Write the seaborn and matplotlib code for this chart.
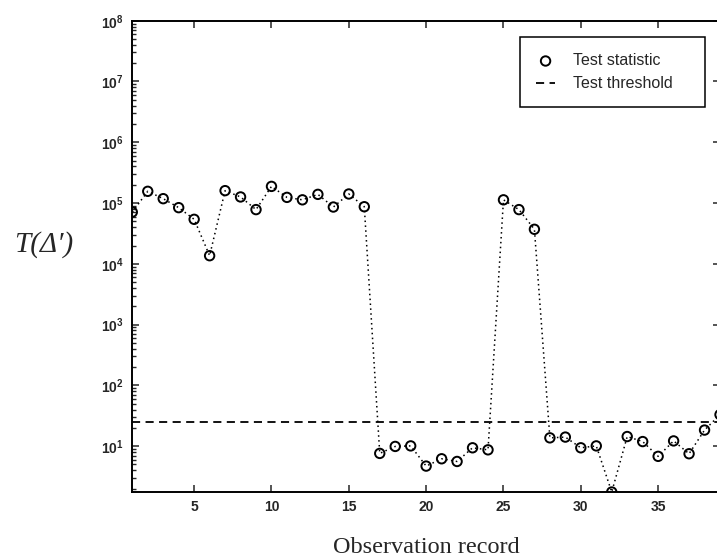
import matplotlib
matplotlib.use("Agg")
import matplotlib.pyplot as plt
import seaborn as sns
import numpy as np
import pandas as pd
from matplotlib.ticker import LogLocator, FixedLocator, NullFormatter

# ---- data ----
records = list(range(1, 40))
test_statistic = [7.1e4, 1.56e5, 1.18e5, 8.4e4, 5.4e4, 1.36e4, 1.6e5, 1.26e5, 7.8e4, 1.88e5,
                  1.24e5, 1.13e5, 1.39e5, 8.6e4, 1.41e5, 8.7e4, 7.6, 9.9, 10.1, 4.7,
                  6.2, 5.6, 9.4, 8.7, 1.13e5, 7.8e4, 3.7e4, 13.7, 14.1, 9.4,
                  10.1, 1.76, 14.4, 11.9, 6.8, 12.2, 7.5, 18.4, 33.0]
test_threshold = 24.6
x_ticks = [5, 10, 15, 20, 25, 30, 35]
y_ticks = [1e1, 1e2, 1e3, 1e4, 1e5, 1e6, 1e7, 1e8]
legend_labels = ["Test statistic", "Test threshold"]
xlabel = "Observation record"
ylabel = "T(Δ\u2032)"

df = pd.DataFrame({"record": records, "stat": test_statistic})

sns.set_style("white")
plt.rcParams["font.family"] = ["Liberation Sans", "DejaVu Sans"]

fig = plt.figure(figsize=(7.17, 5.6), dpi=100)
ax = fig.add_axes([0.1845, 0.1214, 0.8197, 0.8416])

sns.lineplot(data=df, x="record", y="stat", ax=ax, color="black",
             linestyle=(0, (1, 2.2)), linewidth=1.1, legend=False)
sns.scatterplot(data=df, x="record", y="stat", ax=ax, marker="o", s=46,
                facecolors="none", edgecolor="black", linewidth=1.4,
                label=legend_labels[0], zorder=3)
ax.axhline(test_threshold, color="black", linestyle=(0, (4.5, 3)), linewidth=1.3,
           label=legend_labels[1])

ax.set_yscale("log")
ax.set_xlim(1, 39)
ax.set_ylim(1.76, 1e8)
ax.xaxis.set_major_locator(FixedLocator(x_ticks))
ax.yaxis.set_major_locator(FixedLocator(y_ticks))
ax.minorticks_on()
ax.xaxis.set_minor_locator(FixedLocator([]))
ax.yaxis.set_minor_locator(LogLocator(base=10, subs=tuple(np.arange(2, 10)), numticks=100))
ax.yaxis.set_minor_formatter(NullFormatter())

ax.tick_params(axis="both", which="major", direction="in", length=5, width=1.1,
               top=True, right=True, left=True, bottom=True, labelsize=10, pad=6)
ax.tick_params(axis="y", which="minor", direction="in", length=3, width=1.0,
               left=True, right=False)
for lab in ax.get_xticklabels() + ax.get_yticklabels():
    lab.set_fontweight("bold")
for sp in ax.spines.values():
    sp.set_linewidth(1.4)
    sp.set_color("black")

ax.set_xlabel(xlabel, fontsize=17.5, family=["Liberation Serif"], labelpad=16)
ax.set_ylabel("")
fig.text(0.061, 0.563, ylabel, fontsize=21, ha="center", va="center",
         family=["Liberation Serif", "DejaVu Serif"], style="italic")

leg = ax.legend(loc="upper right", bbox_to_anchor=(0.6597, 0.0, 0.3143, 0.965),
                mode="expand", frameon=True,
                fancybox=False, edgecolor="black", framealpha=1, fontsize=11.5,
                borderpad=1.0, labelspacing=0.5, handlelength=1.2, handletextpad=1.1,
                borderaxespad=0)
leg.get_frame().set_linewidth(1.1)

fig.savefig("out.png", dpi=100)
